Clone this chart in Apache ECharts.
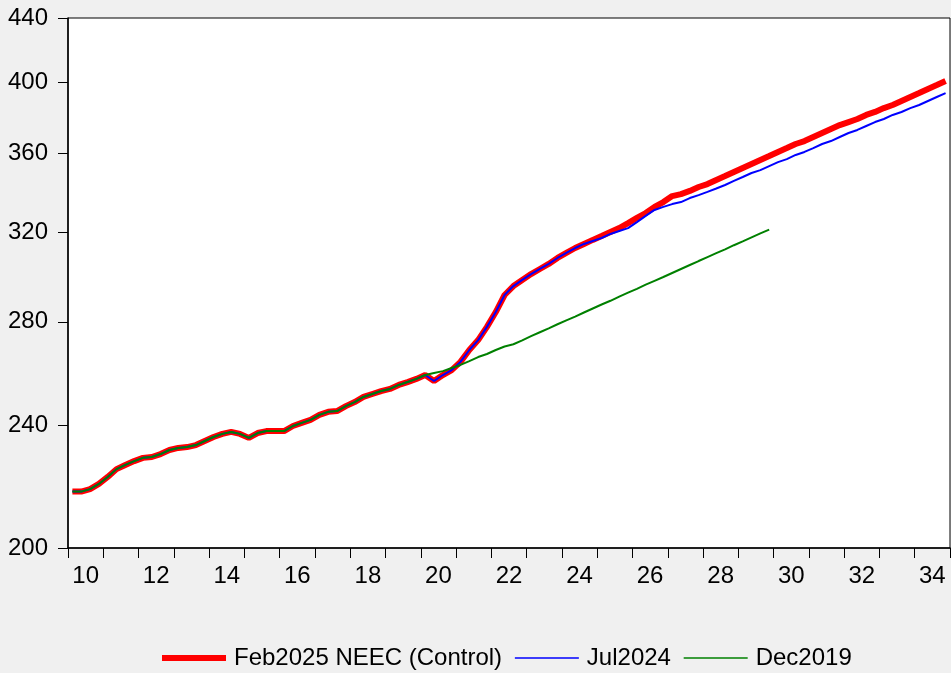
<!DOCTYPE html>
<html>
<head>
<meta charset="utf-8">
<script src="https://cdn.jsdelivr.net/npm/echarts@6/dist/echarts.min.js"></script>
<style>
  html, body { margin: 0; padding: 0; background: #f0f0f0; }
  #chart { width: 951px; height: 673px; }
</style>
</head>
<body>
<div id="chart"></div>
<script>
// quarterly data, 2010Q1 onward
const START_YEAR = 2010
const yTicks = [200, 240, 280, 320, 360, 400, 440]
const xLabelYears = [2010, 2012, 2014, 2016, 2018, 2020, 2022, 2024, 2026, 2028, 2030, 2032, 2034]

// 2010Q1 - 2020Q1, common to all vintages
const history = [
  217.5, 217.5, 218.3, 220.0, 222.3, 224.9, 226.3, 227.6, 228.7, 229.0,
  230.0, 231.4, 232.1, 232.4, 233.1, 234.5, 235.9, 237.0, 237.7, 237.0,
  235.6, 237.3, 238.0, 238.0, 238.0, 239.8, 240.9, 242.0, 243.8, 244.9,
  245.2, 247.0, 248.5, 250.4, 251.5, 252.6, 253.4, 254.9, 256.0, 257.2,
  258.7,
]
// 2020Q2 - 2024Q3, shared by Feb2025 and Jul2024
const recent = [
  256.4, 258.7, 260.6, 263.8, 268.5, 272.5, 277.9, 284.1, 291.4, 295.3,
  298.0, 300.6, 302.9, 305.2, 307.9, 310.2, 312.5, 314.4,
]
const feb2025Proj = [
  316.3, 318.1, 320.0, 321.9, 324.3, 326.8, 329.2, 332.2, 334.6, 337.6,
  338.6, 340.2, 342.2, 343.7, 345.8, 347.8, 349.9, 352.0, 354.1, 356.2,
  358.3, 360.5, 362.6, 364.8, 366.4, 368.6, 370.8, 373.0, 375.2, 376.9,
  378.6, 380.9, 382.6, 384.8, 386.6, 388.9, 391.2, 393.5, 395.9, 398.2,
  400.6,
]
const jul2024Proj = [
  315.8, 317.2, 319.1, 320.5, 321.9, 324.8, 327.8, 330.7, 332.2, 333.6,
  334.6, 336.6, 338.1, 339.7, 341.4, 343.2, 345.3, 347.3, 349.4, 350.9,
  353.0, 355.1, 356.7, 358.9, 360.5, 362.6, 364.8, 366.4, 368.6, 370.8,
  372.5, 374.7, 376.9, 378.6, 380.9, 382.6, 384.8, 386.6, 388.9, 391.2,
  393.5,
]
// 2020Q2 - 2029Q4
const dec2019Proj = [
  259.5, 260.2, 261.4, 262.6, 264.1, 265.7, 266.9, 268.5, 269.9, 270.8,
  272.4, 274.1, 275.7, 277.3, 279.0, 280.6, 282.2, 283.9, 285.6, 287.3,
  288.9, 290.7, 292.4, 294.1, 295.9, 297.6, 299.3, 301.1, 302.9, 304.7,
  306.5, 308.3, 310.1, 311.9, 313.8, 315.6, 317.5, 319.4, 321.2,
]

const feb2025 = history.concat(recent, feb2025Proj)
const jul2024 = history.concat(recent, jul2024Proj)
const dec2019 = history.concat(dec2019Proj)

// log scale done by hand so the ticks can sit at 200, 240, ...
const toPoints = (arr) => arr.map((v, i) => [START_YEAR + (i + 0.5) / 4, Math.log(v)])

const FONT = '"Liberation Sans", Arial, sans-serif'

const chart = echarts.init(document.getElementById('chart'))

const option = {
  backgroundColor: '#f0f0f0',
  animation: false,
  textStyle: { fontFamily: FONT },
  grid: {
    left: 68,
    right: 1,
    top: 18,
    bottom: 125,
    show: true,
    backgroundColor: '#fff',
    borderColor: '#000',
    borderWidth: 1,
  },
  legend: {
    left: 154,
    top: 641,
    itemWidth: 64,
    itemHeight: 14,
    itemGap: 12,
    itemStyle: { opacity: 0 },
    textStyle: { fontSize: 24, color: '#000', fontFamily: FONT, padding: [0, 0, 0, 3] },
    data: [
      { name: 'Feb2025 NEEC (Control)', lineStyle: { width: 6 } },
      { name: 'Jul2024', lineStyle: { width: 1.5 } },
      { name: 'Dec2019', lineStyle: { width: 1.5 } },
    ],
  },
  xAxis: {
    type: 'value',
    min: 2010,
    max: 2035,
    interval: 1,
    axisLine: { lineStyle: { color: '#000', width: 1.5 } },
    axisTick: { show: true, length: 10, lineStyle: { color: '#000' } },
    splitLine: { show: false },
    axisLabel: {
      customValues: xLabelYears.map((y) => y + 0.5),
      formatter: (v) => String(Math.floor(v) % 100),
      fontSize: 24,
      color: '#000',
      margin: 16,
    },
  },
  yAxis: {
    type: 'value',
    min: Math.log(200),
    max: Math.log(440),
    axisLine: { show: true, lineStyle: { color: '#000', width: 1.5 } },
    axisTick: {
      show: true,
      length: 10,
      customValues: yTicks.map(Math.log),
      lineStyle: { color: '#000' },
    },
    splitLine: { show: false },
    axisLabel: {
      customValues: yTicks.map(Math.log),
      formatter: (v) => String(Math.round(Math.exp(v))),
      fontSize: 24,
      color: '#000',
      margin: 20,
    },
  },
  series: [
    {
      name: 'Feb2025 NEEC (Control)',
      type: 'line',
      data: toPoints(feb2025),
      showSymbol: false,
      symbol: 'none',
      color: '#ff0000',
      lineStyle: { width: 6, color: '#ff0000' },
    },
    {
      name: 'Jul2024',
      type: 'line',
      data: toPoints(jul2024),
      showSymbol: false,
      symbol: 'none',
      color: '#0000ff',
      lineStyle: { width: 2, color: '#0000ff' },
    },
    {
      name: 'Dec2019',
      type: 'line',
      data: toPoints(dec2019),
      showSymbol: false,
      symbol: 'none',
      color: '#008000',
      lineStyle: { width: 2, color: '#008000' },
    },
  ],
}

chart.setOption(option)
</script>
</body>
</html>
